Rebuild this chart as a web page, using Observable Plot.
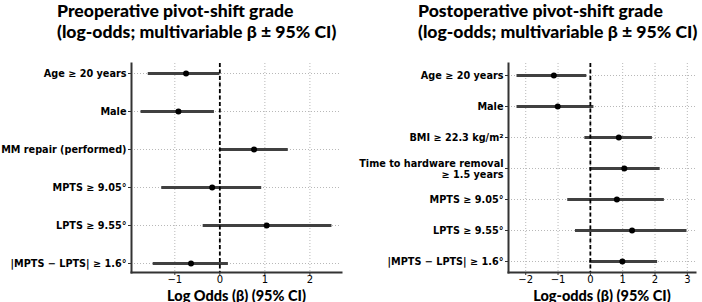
<!DOCTYPE html>
<html><head><meta charset="utf-8">
<script src="https://cdn.jsdelivr.net/npm/d3@7"></script>
<script src="https://cdn.jsdelivr.net/npm/@observablehq/plot@0.6"></script>
<style>
body{margin:0;background:#fff;}
#wrap{position:relative;width:702px;height:302px;overflow:hidden;background:#fff;}
.title{position:absolute;font-family:Lato,sans-serif;font-weight:900;font-size:17.6px;line-height:20.5px;color:#000;white-space:nowrap;}
.panel{position:absolute;top:55px;}
</style></head>
<body>
<div id="wrap">
  <div class="title" id="t1" style="left:57px;top:1px;"></div>
  <div class="title" id="t2" style="left:418px;top:1px;"></div>
  <div class="panel" id="p1" style="left:0px;"></div>
  <div class="panel" id="p2" style="left:351px;"></div>
</div>
<script>
const preTitle = ["Preoperative pivot-shift grade", "(log-odds; multivariable β ± 95% CI)"];
const postTitle = ["Postoperative pivot-shift grade", "(log-odds; multivariable β ± 95% CI)"];
const preXLabel = "Log Odds (β) (95% CI)";
const postXLabel = "Log-odds (β) (95% CI)";

const preLabels = ["Age ≥ 20 years", "Male", "MM repair (performed)", "MPTS ≥ 9.05°", "LPTS ≥ 9.55°", "|MPTS − LPTS| ≥ 1.6°"];
const preBeta = [-0.75, -0.92, 0.76, -0.17, 1.04, -0.64];
const preLow  = [-1.59, -1.75, 0.00, -1.29, -0.37, -1.48];
const preHigh = [0.00, -0.12, 1.52, 0.93, 2.49, 0.19];
const preTicks = [-1, 0, 1, 2];

const postLabels = ["Age ≥ 20 years", "Male", "BMI ≥ 22.3 kg/m²", "Time to hardware removal\n≥ 1.5 years", "MPTS ≥ 9.05°", "LPTS ≥ 9.55°", "|MPTS − LPTS| ≥ 1.6°"];
const postBeta = [-1.13, -1.01, 0.88, 1.05, 0.82, 1.29, 0.99];
const postLow  = [-2.27, -2.27, -0.17, -0.01, -0.70, -0.46, -0.02];
const postHigh = [-0.11, 0.11, 1.92, 2.16, 2.29, 2.99, 2.08];
const postTicks = [-2, -1, 0, 1, 2, 3];

function setTitle(id, lines) {
  const el = document.getElementById(id);
  lines.forEach(l => { const d = document.createElement("div"); d.textContent = l; el.appendChild(d); });
}
setTitle("t1", preTitle);
setTitle("t2", postTitle);

const fmt = d => (d < 0 ? "\u2212" : "") + Math.abs(d);

function panel({labels, beta, low, high, ticks, xLabel, marginLeft, marginRight, ypad}) {
  const rows = labels.map((l, i) => ({label: l, beta: beta[i], low: low[i], high: high[i]}));
  const lo = d3.min(low), hi = d3.max(high), m = (hi - lo) * 0.05;
  const domain = [lo - m, hi + m];
  return Plot.plot({
    width: 351, height: 247,
    marginTop: 8, marginBottom: 30, marginLeft, marginRight,
    style: {fontFamily: "DejaVu Sans", background: "white", color: "#000", overflow: "visible"},
    x: {domain, ticks},
    y: {type: "point", domain: labels, padding: ypad},
    marks: [
      Plot.gridX(ticks, {stroke: "#b8b8b8", strokeOpacity: 1, strokeDasharray: "1,2"}),
      Plot.gridY(labels, {stroke: "#b8b8b8", strokeOpacity: 1, strokeDasharray: "1,2"}),
      Plot.ruleY(rows, {y: "label", x1: "low", x2: "high", stroke: "#404040", strokeWidth: 3.2}),
      Plot.dot(rows, {x: "beta", y: "label", r: 3, fill: "black", stroke: "none"}),
      Plot.ruleX([0], {stroke: "black", strokeWidth: 1.8, strokeDasharray: "4,2.5"}),
      Plot.frame({anchor: "left", stroke: "#333", strokeWidth: 2}),
      Plot.frame({anchor: "bottom", stroke: "#333", strokeWidth: 2}),
      Plot.axisY({tickSize: 3, tickPadding: 2, fontWeight: "bold", fontSize: 9.7, lineHeight: 1.15,
                  fontFamily: "DejaVu Sans", label: null, stroke: "#333"}),
      Plot.axisX({ticks, tickSize: 3, tickPadding: 0, fontSize: 10, tickFormat: fmt, label: null, stroke: "#333"}),
      Plot.axisX({ticks: [], label: xLabel, labelAnchor: "center", labelArrow: "none", labelOffset: 28,
                  fontSize: 14.5, fontWeight: 900, fontFamily: "Lato"})
    ]
  });
}

document.getElementById("p1").appendChild(panel({
  labels: preLabels, beta: preBeta, low: preLow, high: preHigh, ticks: preTicks,
  xLabel: preXLabel, marginLeft: 131, marginRight: 10, ypad: 0.25
}));
document.getElementById("p2").appendChild(panel({
  labels: postLabels, beta: postBeta, low: postLow, high: postHigh, ticks: postTicks,
  xLabel: postXLabel, marginLeft: 157, marginRight: 7, ypad: 0.3
}));
</script>
</body></html>
